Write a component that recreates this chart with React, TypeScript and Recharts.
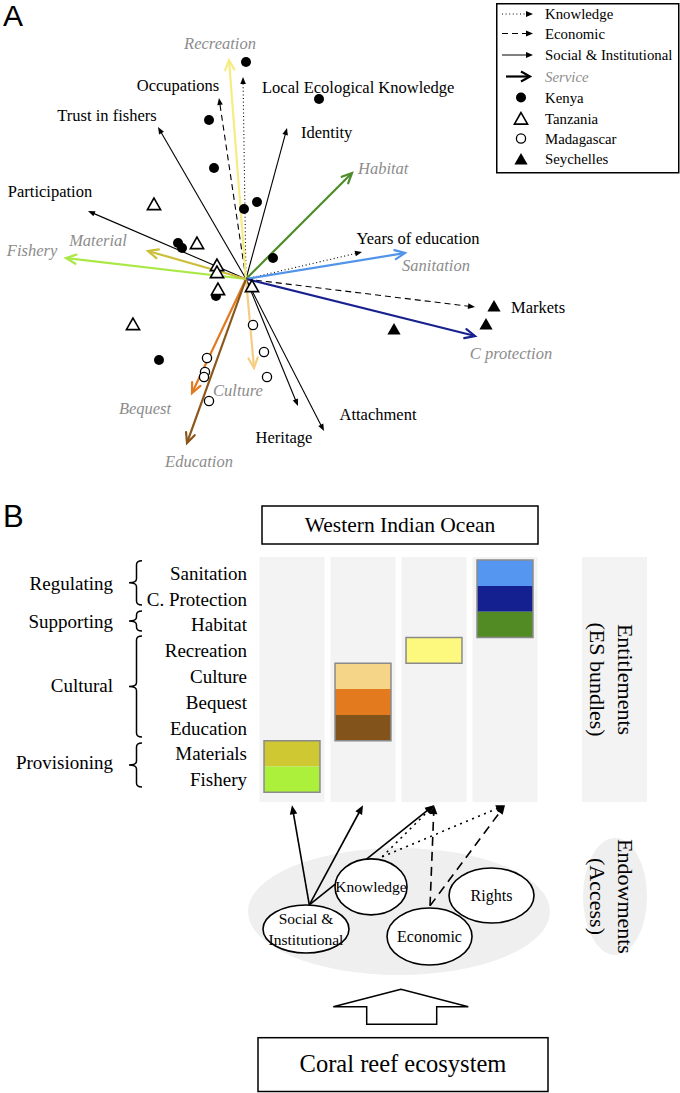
import React from 'react';
import {
  ScatterChart,
  Scatter,
  XAxis,
  YAxis,
  ReferenceLine,
  ReferenceArea,
  ReferenceDot,
  Legend,
  Customized,
} from 'recharts';

const SERIF = '"Liberation Serif", "Times New Roman", serif';
const SANS = '"Liberation Sans", Arial, sans-serif';
const GREY_TEXT = '#8c8c8c';

// ---------------- Panel A : ordination (PC1, PC2) ----------------
const serviceNames = ['Recreation', 'Habitat', 'Sanitation', 'C protection', 'Culture', 'Bequest', 'Education', 'Fishery', 'Material'];
const servicePC1 = [-0.17, 1.06, 1.59, 2.29, 0.08, -0.54, -0.59, -1.8, -0.98];
const servicePC2 = [2.19, 1.06, 0.26, -0.57, -0.89, -1.14, -1.64, 0.21, 0.28];

const accessNames = ['Local Ecological Knowledge', 'Years of education', 'Occupations', 'Markets', 'Trust in fishers', 'Identity', 'Participation', 'Attachment', 'Heritage'];
const accessTypes = ['Knowledge', 'Knowledge', 'Economic', 'Economic', 'Social', 'Social', 'Social', 'Social', 'Social'];
const accessPC1 = [-0.03, 1.16, -0.27, 2.29, -0.88, 0.41, -1.58, 0.78, 0.52];
const accessPC2 = [2.02, 0.27, 1.81, -0.28, 1.52, 1.51, 0.68, -1.52, -1.27];

const kenyaPC1 = [0.0, 0.73, -0.37, -0.32, 0.11, -0.02, -0.68, -0.64, 0.27, -0.3, -0.87];
const kenyaPC2 = [2.17, 1.8, 1.59, 1.11, 0.77, 0.7, 0.36, 0.31, 0.21, -0.17, -0.81];
const tanzaniaPC1 = [-0.92, -0.49, -0.29, -0.29, -0.28, 0.06, -1.13];
const tanzaniaPC2 = [0.74, 0.35, 0.13, 0.06, -0.11, -0.08, -0.46];
const madagascarPC1 = [0.07, 0.18, -0.39, -0.41, -0.42, 0.21, -0.37];
const madagascarPC2 = [-0.46, -0.73, -0.79, -0.93, -0.98, -0.98, -1.22];
const seychellesPC1 = [2.48, 2.4, 1.48];
const seychellesPC2 = [-0.28, -0.46, -0.51];

const legendItems = ['Knowledge', 'Economic', 'Social & Institutional', 'Service', 'Kenya', 'Tanzania', 'Madagascar', 'Seychelles'];

// ---------------- Panel B : ES bundles ----------------
const esRows = ['Sanitation', 'C. Protection', 'Habitat', 'Recreation', 'Culture', 'Bequest', 'Education', 'Materials', 'Fishery'];
const esGroups = ['Regulating', 'Supporting', 'Cultural', 'Provisioning'];
const bundleIds = [1, 2, 3, 4];
const bundleMembers = [
  ['Materials', 'Fishery'],
  ['Culture', 'Bequest', 'Education'],
  ['Recreation'],
  ['Sanitation', 'C. Protection', 'Habitat'],
];
const endowmentNodes = ['Social & Institutional', 'Knowledge', 'Economic', 'Rights'];
const linkFrom = ['Social & Institutional', 'Social & Institutional', 'Social & Institutional', 'Knowledge', 'Knowledge', 'Economic', 'Economic'];
const linkTo = [1, 2, 3, 3, 4, 3, 4];

// ---------------- styles / layout ----------------
const serviceColor: Record<string, string> = {
  Recreation: '#f7ec82',
  Habitat: '#4e8b2b',
  Sanitation: '#5194ea',
  'C protection': '#18228f',
  Culture: '#f4cd82',
  Bequest: '#e07b22',
  Education: '#8a561a',
  Fishery: '#aae845',
  Material: '#ccbf3c',
};
const rowColor: Record<string, string> = {
  Sanitation: '#5596f0',
  'C. Protection': '#142090',
  Habitat: '#528a24',
  Recreation: '#fdf97f',
  Culture: '#f5d588',
  Bequest: '#e37b1e',
  Education: '#82531a',
  Materials: '#cfc832',
  Fishery: '#acf03c',
};
const dashFor: Record<string, string | undefined> = {
  Knowledge: '1 2.6',
  Economic: '6 4',
  Social: undefined,
};
const dashForB: Record<string, string | undefined> = {
  Knowledge: '2 4.5',
  Economic: '9 6',
  Social: undefined,
};
const labelPos: Record<string, [number, number, 'start' | 'middle' | 'end']> = {
  Recreation: [-9, -17, 'middle'],
  Habitat: [6, -5, 'start'],
  Sanitation: [31, 12, 'middle'],
  'C protection': [36, 17, 'middle'],
  Culture: [-16, 22, 'middle'],
  Bequest: [-47, 15, 'middle'],
  Education: [12, 18, 'middle'],
  Fishery: [-34, -8, 'middle'],
  Material: [-50, -11, 'middle'],
  'Local Ecological Knowledge': [19, 10, 'start'],
  'Years of education': [56, -14, 'middle'],
  Occupations: [-41, -13, 'middle'],
  Markets: [36, 0, 'start'],
  'Trust in fishers': [-51, -12, 'middle'],
  Identity: [14, 4, 'start'],
  Participation: [-38, -20, 'middle'],
  Attachment: [54, -17, 'middle'],
  Heritage: [-14, 31, 'middle'],
};
const nodeLayout: Record<string, { u: number; v: number; rx: number; ry: number; ou?: number; ov?: number; lines: string[]; fs: number }> = {
  'Social & Institutional': { u: 1.197, v: 14.298, rx: 43, ry: 24, ou: 1.244, ov: 13.368, lines: ['Social &', 'Institutional'], fs: 15.5 },
  Knowledge: { u: 2.113, v: 12.667, rx: 36, ry: 28, ou: 2.27, ov: 11.5, lines: ['Knowledge'], fs: 15.5 },
  Economic: { u: 2.937, v: 14.589, rx: 42.5, ry: 28.5, ou: 2.944, ov: 13.4, lines: ['Economic'], fs: 16 },
  Rights: { u: 3.81, v: 13.0, rx: 42.5, ry: 27.5, lines: ['Rights'], fs: 16 },
};
const groupLayout: Record<string, { top: number; bottom: number; labelY: number }> = {
  Regulating: { top: 80.7, bottom: 125, labelY: 103 },
  Supporting: { top: 131, bottom: 151, labelY: 141 },
  Cultural: { top: 156, bottom: 257, labelY: 205 },
  Provisioning: { top: 263, bottom: 307, labelY: 282 },
};

type ArrowOpts = {
  color: string;
  width: number;
  dash?: string;
  head: 'open' | 'solid';
  headLen: number;
  headHalf: number;
  label?: string;
  italic?: boolean;
  labelColor?: string;
  fontSize?: number;
};

function makeArrow(o: ArrowOpts) {
  return (p: any) => {
    const x1 = Number(p.x1), y1 = Number(p.y1), x2 = Number(p.x2), y2 = Number(p.y2);
    const dx = x2 - x1, dy = y2 - y1;
    const L = Math.hypot(dx, dy) || 1;
    const ux = dx / L, uy = dy / L, nx = -uy, ny = ux;
    const bx = x2 - ux * o.headLen, by = y2 - uy * o.headLen;
    const ex = o.head === 'solid' ? bx + ux : x2 - ux * 0.8;
    const ey = o.head === 'solid' ? by + uy : y2 - uy * 0.8;
    const lp = o.label ? labelPos[o.label] : undefined;
    return (
      <g>
        <line x1={x1} y1={y1} x2={ex} y2={ey} stroke={o.color} strokeWidth={o.width} strokeDasharray={o.dash} />
        {o.head === 'solid' ? (
          <polygon
            points={`${x2},${y2} ${bx + nx * o.headHalf},${by + ny * o.headHalf} ${bx - nx * o.headHalf},${by - ny * o.headHalf}`}
            fill={o.color}
          />
        ) : (
          <polyline
            points={`${bx + nx * o.headHalf},${by + ny * o.headHalf} ${x2},${y2} ${bx - nx * o.headHalf},${by - ny * o.headHalf}`}
            fill="none"
            stroke={o.color}
            strokeWidth={o.width}
            strokeLinecap="round"
          />
        )}
        {o.label && lp ? (
          <text
            x={x2 + lp[0]}
            y={y2 + lp[1]}
            textAnchor={lp[2]}
            dominantBaseline="central"
            fontFamily={SERIF}
            fontSize={o.fontSize ?? 16.5}
            fontStyle={o.italic ? 'italic' : 'normal'}
            fill={o.labelColor ?? '#000'}
          >
            {o.label}
          </text>
        ) : null}
      </g>
    );
  };
}

const toPts = (xs: number[], ys: number[]) => xs.map((x, i) => ({ x, y: ys[i] }));
const kenya = toPts(kenyaPC1, kenyaPC2);
const tanzania = toPts(tanzaniaPC1, tanzaniaPC2);
const madagascar = toPts(madagascarPC1, madagascarPC2);
const seychelles = toPts(seychellesPC1, seychellesPC2);

const tri = (cx: number, cy: number) => `${cx},${cy - 7} ${cx - 6.6},${cy + 4.6} ${cx + 6.6},${cy + 4.6}`;
const kenyaShape = (p: any) => <circle cx={p.cx} cy={p.cy} r={5} fill="#000" />;
const tanzaniaShape = (p: any) => <polygon points={tri(p.cx, p.cy)} fill="#fff" stroke="#000" strokeWidth={1.6} />;
const madagascarShape = (p: any) => <circle cx={p.cx} cy={p.cy} r={4.6} fill="#fff" stroke="#000" strokeWidth={1.3} />;
const seychellesShape = (p: any) => <polygon points={tri(p.cx, p.cy)} fill="#000" />;

function LegendBox() {
  const ys = [11, 30.5, 52, 73.5, 94.5, 115.5, 135.5, 156];
  const textX = 49;
  const lineItem = (y: number, dash: string | undefined) => (
    <g>
      <line x1={6} y1={y} x2={31} y2={y} stroke="#000" strokeWidth={1} strokeDasharray={dash} />
      <polygon points={`${37},${y} ${30},${y - 3} ${30},${y + 3}`} fill="#000" />
    </g>
  );
  return (
    <svg width={184} height={171} style={{ display: 'block' }}>
      <rect x={0.75} y={0.75} width={182} height={169} fill="#fff" stroke="#000" strokeWidth={1.5} />
      {lineItem(ys[0], dashFor.Knowledge)}
      {lineItem(ys[1], dashFor.Economic)}
      {lineItem(ys[2], undefined)}
      <line x1={10} y1={ys[3]} x2={33} y2={ys[3]} stroke="#000" strokeWidth={2.2} />
      <polyline points={`${25},${ys[3] - 5} ${34},${ys[3]} ${25},${ys[3] + 5}`} fill="none" stroke="#000" strokeWidth={2.2} />
      <circle cx={25} cy={ys[4]} r={5} fill="#000" />
      <polygon points={tri(25, ys[5] + 1)} fill="#fff" stroke="#000" strokeWidth={1.6} />
      <circle cx={25} cy={ys[6]} r={4.6} fill="#fff" stroke="#000" strokeWidth={1.3} />
      <polygon points={tri(25, ys[7] + 1)} fill="#000" />
      {legendItems.map((t, i) => (
        <text
          key={t}
          x={textX}
          y={ys[i]}
          dominantBaseline="central"
          fontFamily={SERIF}
          fontSize={14.8}
          fontStyle={t === 'Service' ? 'italic' : 'normal'}
          fill={t === 'Service' ? GREY_TEXT : '#000'}
        >
          {t}
        </text>
      ))}
    </svg>
  );
}

function PanelA() {
  return (
    <ScatterChart width={680} height={480} margin={{ top: 0, right: 0, bottom: 0, left: 0 }}>
      <XAxis type="number" dataKey="x" domain={[-2.46, 4.34]} allowDataOverflow hide />
      <YAxis type="number" dataKey="y" domain={[-2.01, 2.79]} allowDataOverflow hide />
      {accessNames.map((n, i) => (
        <ReferenceLine
          key={n}
          ifOverflow="visible"
          segment={[{ x: 0, y: 0 }, { x: accessPC1[i], y: accessPC2[i] }]}
          shape={makeArrow({
            color: '#000',
            width: 1.1,
            dash: dashFor[accessTypes[i]],
            head: 'solid',
            headLen: 7,
            headHalf: 2.8,
            label: n,
          })}
        />
      ))}
      {serviceNames.map((n, i) => (
        <ReferenceLine
          key={n}
          ifOverflow="visible"
          segment={[{ x: 0, y: 0 }, { x: servicePC1[i], y: servicePC2[i] }]}
          shape={makeArrow({
            color: serviceColor[n],
            width: 2.2,
            head: 'open',
            headLen: 10,
            headHalf: 4.6,
            label: n,
            italic: true,
            labelColor: GREY_TEXT,
          })}
        />
      ))}
      <Scatter name="Kenya" data={kenya} shape={kenyaShape} isAnimationActive={false} />
      <Scatter name="Tanzania" data={tanzania} shape={tanzaniaShape} isAnimationActive={false} />
      <Scatter name="Madagascar" data={madagascar} shape={madagascarShape} isAnimationActive={false} />
      <Scatter name="Seychelles" data={seychelles} shape={seychellesShape} isAnimationActive={false} />
      <Legend
        layout="vertical"
        align="center"
        verticalAlign="middle"
        content={() => <LegendBox />}
        wrapperStyle={{ position: 'absolute', left: 496, top: 3, width: 184, height: 171 }}
      />
      <Customized
        component={() => (
          <text x={3} y={26} fontFamily={SANS} fontSize={30} fill="#000">
            A
          </text>
        )}
      />
    </ScatterChart>
  );
}

function bracePath(yt: number, yb: number) {
  const x0 = 142, xs = 136.5, xc = 129, r = 4;
  const ym = (yt + yb) / 2;
  return `M${x0},${yt} Q${xs},${yt} ${xs},${yt + r} L${xs},${ym - r} Q${xs},${ym} ${xc},${ym} Q${xs},${ym} ${xs},${ym + r} L${xs},${yb - r} Q${xs},${yb} ${x0},${yb}`;
}

function DecorB() {
  return (
    <g>
      <text x={3} y={47} fontFamily={SANS} fontSize={31} fill="#000">
        B
      </text>
      <rect x={262} y={26} width={276} height={38} fill="#fff" stroke="#000" strokeWidth={1.5} />
      <text x={400} y={45} textAnchor="middle" dominantBaseline="central" fontFamily={SERIF} fontSize={21.5}>
        Western Indian Ocean
      </text>
      {esGroups.map((g) => (
        <g key={g}>
          <path d={bracePath(groupLayout[g].top, groupLayout[g].bottom)} fill="none" stroke="#000" strokeWidth={1.5} />
          <text x={113} y={groupLayout[g].labelY} textAnchor="end" dominantBaseline="central" fontFamily={SERIF} fontSize={19}>
            {g}
          </text>
        </g>
      ))}
      <polygon
        points="401,509.3 333.3,526.7 366.7,526.7 366.7,544.3 436.7,544.3 436.7,526.7 468.3,526.7"
        fill="#fff"
        stroke="#000"
        strokeWidth={1.5}
      />
      <rect x={258} y={557.7} width={290} height={53.8} fill="#fff" stroke="#000" strokeWidth={1.5} />
      <text x={403} y={583} textAnchor="middle" dominantBaseline="central" fontFamily={SERIF} fontSize={24.5}>
        Coral reef ecosystem
      </text>
    </g>
  );
}

const vText = (x: number, y: number, t: string) => (
  <text transform={`translate(${x},${y}) rotate(90)`} textAnchor="middle" dominantBaseline="central" fontFamily={SERIF} fontSize={22} fill="#000">
    {t}
  </text>
);

const rowTicks = esRows.map((_, i) => i + 0.5);

function PanelB() {
  return (
    <ScatterChart width={680} height={613} margin={{ top: 0, right: 0, bottom: 0, left: 0 }}>
      <XAxis type="number" dataKey="x" domain={[0.47887, 6.46479]} allowDataOverflow hide />
      <YAxis
        type="number"
        dataKey="y"
        domain={[-3.1047, 20.655]}
        reversed
        allowDataOverflow
        width={255}
        ticks={rowTicks}
        interval={0}
        tickFormatter={(v: number) => esRows[Math.round(v - 0.5)]}
        axisLine={false}
        tickLine={false}
        tick={{ fontSize: 19, fontFamily: SERIF, fill: '#000' }}
      />
      {bundleIds.map((b) => (
        <ReferenceArea key={`col${b}`} x1={b - 0.458} x2={b + 0.458} y1={-0.12} y2={9.376} fill="#f3f3f3" fillOpacity={1} />
      ))}
      <ReferenceArea
        x1={5.085}
        x2={6.0}
        y1={-0.12}
        y2={9.376}
        shape={(p: any) => {
          const cx = p.x + p.width / 2, cy = p.y + p.height / 2;
          return (
            <g>
              <rect x={p.x} y={p.y} width={p.width} height={p.height} fill="#f3f3f3" />
              {vText(cx + 10.5, cy, 'Entitlements')}
              {vText(cx - 17.5, cy, '(ES bundles)')}
            </g>
          );
        }}
      />
      {bundleIds.map((b, bi) =>
        bundleMembers[bi].map((m) => {
          const r = esRows.indexOf(m);
          return <ReferenceArea key={`${b}-${m}`} x1={b - 0.394} x2={b + 0.394} y1={r} y2={r + 1} fill={rowColor[m]} fillOpacity={1} />;
        })
      )}
      {bundleIds.map((b, bi) => {
        const rs = bundleMembers[bi].map((m) => esRows.indexOf(m));
        return (
          <ReferenceArea
            key={`out${b}`}
            x1={b - 0.394}
            x2={b + 0.394}
            y1={Math.min(...rs)}
            y2={Math.max(...rs) + 1}
            fill="none"
            stroke="#8a8a8a"
            strokeWidth={1.5}
          />
        );
      })}
      <ReferenceArea
        x1={0.38}
        x2={4.634}
        y1={11.159}
        y2={16.081}
        ifOverflow="visible"
        shape={(p: any) => (
          <ellipse cx={p.x + p.width / 2} cy={p.y + p.height / 2} rx={Math.abs(p.width) / 2} ry={Math.abs(p.height) / 2} fill="#efefef" />
        )}
      />
      <ReferenceArea
        x1={5.099}
        x2={6.0}
        y1={10.771}
        y2={15.306}
        ifOverflow="visible"
        shape={(p: any) => {
          const cx = p.x + p.width / 2, cy = p.y + p.height / 2;
          return (
            <g>
              <ellipse cx={cx} cy={cy} rx={Math.abs(p.width) / 2} ry={Math.abs(p.height) / 2} fill="#efefef" />
              {vText(cx + 10, cy, 'Endowments')}
              {vText(cx - 18, cy, '(Access)')}
            </g>
          );
        }}
      />
      {linkFrom.map((f, i) => {
        const L = nodeLayout[f];
        const type = f === 'Knowledge' ? 'Knowledge' : f === 'Economic' ? 'Economic' : 'Social';
        return (
          <ReferenceLine
            key={`link${i}`}
            ifOverflow="visible"
            segment={[{ x: L.ou as number, y: L.ov as number }, { x: linkTo[i], y: 9.5 }]}
            shape={makeArrow({
              color: '#000',
              width: 1.6,
              dash: dashForB[type],
              head: 'solid',
              headLen: 9,
              headHalf: 3.8,
            })}
          />
        );
      })}
      {endowmentNodes.map((n) => {
        const L = nodeLayout[n];
        return (
          <ReferenceDot
            key={n}
            x={L.u}
            y={L.v}
            shape={(p: any) => (
              <g>
                <ellipse cx={p.cx} cy={p.cy} rx={L.rx} ry={L.ry} fill="#fff" stroke="#000" strokeWidth={1.6} />
                {L.lines.map((t, k) => (
                  <text
                    key={t}
                    x={p.cx}
                    y={p.cy + (k - (L.lines.length - 1) / 2) * 21}
                    textAnchor="middle"
                    dominantBaseline="central"
                    fontFamily={SERIF}
                    fontSize={L.fs}
                  >
                    {t}
                  </text>
                ))}
              </g>
            )}
          />
        );
      })}
      <Customized component={() => <DecorB />} />
    </ScatterChart>
  );
}

export default function App() {
  return (
    <div style={{ position: 'absolute', left: 0, top: 0, width: 680, height: 1093, background: '#fff', fontFamily: SERIF }}>
      <div style={{ position: 'absolute', left: 0, top: 0 }}>
        <PanelA />
      </div>
      <div style={{ position: 'absolute', left: 0, top: 480 }}>
        <PanelB />
      </div>
    </div>
  );
}
